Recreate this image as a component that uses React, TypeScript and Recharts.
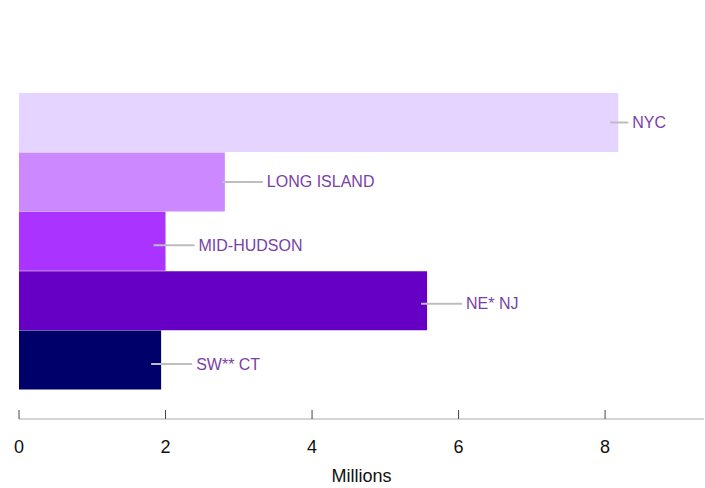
import React from 'react';
import { BarChart, Bar, XAxis, YAxis, Cell, LabelList } from 'recharts';

// Population by region, millions
const regions = ['NYC', 'LONG ISLAND', 'MID-HUDSON', 'NE* NJ', 'SW** CT'];
const population = [8.18, 2.81, 2.0, 5.57, 1.94];
const xTicks = [0, 2, 4, 6, 8];

const barColors = ['#e5d4ff', '#cc88ff', '#aa33ff', '#6600c4', '#00006a'];
// leader line: [start offset from bar end, end offset from bar end, vertical shift]
const leaders: Record<string, [number, number, number]> = {
  'NYC': [-8, 10, 0],
  'LONG ISLAND': [-3, 38, 0],
  'MID-HUDSON': [-12, 29, 4],
  'NE* NJ': [-6, 35, 3],
  'SW** CT': [-10, 31, 4],
};

const data = regions.map((name, i) => ({ name, value: population[i] }));

const LeaderLabel = (props: any) => {
  const { x, y, width, height, value } = props;
  const [a, b, s] = leaders[value] || [-6, 30, 0];
  const end = x + width;
  const cy = y + height / 2 + s;
  return (
    <g>
      <line x1={end + a} x2={end + b} y1={cy} y2={cy} stroke="#bdbdbd" strokeWidth={2} />
      <text x={end + b + 4} y={cy} dy={5.5} fill="#7a3fa6" fontSize={16} fontFamily="Liberation Sans, Arial, sans-serif">
        {value}
      </text>
    </g>
  );
};

const AxisTick = (props: any) => {
  const { x, y, payload } = props;
  return (
    <g>
      <line x1={x} x2={x} y1={y - 17} y2={y - 8} stroke="#444" strokeWidth={1} />
      <text x={x} y={y + 26} textAnchor="middle" fill="#111" fontSize={18} fontFamily="Liberation Sans, Arial, sans-serif">
        {payload.value}
      </text>
    </g>
  );
};

export default function App() {
  return (
    <div style={{ position: 'absolute', left: 0, top: 0, background: '#fff' }}>
      <BarChart
        width={705}
        height={488}
        data={data}
        layout="vertical"
        barCategoryGap={0}
        margin={{ top: 93, right: 1, bottom: 0, left: 19 }}
      >
        <XAxis
          type="number"
          domain={[0, 9.35]}
          ticks={xTicks}
          tickLine={false}
          tick={<AxisTick />}
          axisLine={{ stroke: '#aaa', strokeWidth: 1 }}
          height={69}
          label={{
            value: 'Millions',
            position: 'insideBottom',
            offset: 6,
            fill: '#111',
            fontSize: 18,
            fontFamily: 'Liberation Sans, Arial, sans-serif',
          }}
        />
        <YAxis type="category" dataKey="name" hide padding={{ top: 0, bottom: 29 }} width={0} />
        <Bar dataKey="value" isAnimationActive={false}>
          {data.map((d, i) => (
            <Cell key={d.name} fill={barColors[i]} />
          ))}
          <LabelList dataKey="name" content={<LeaderLabel />} />
        </Bar>
      </BarChart>
    </div>
  );
}
